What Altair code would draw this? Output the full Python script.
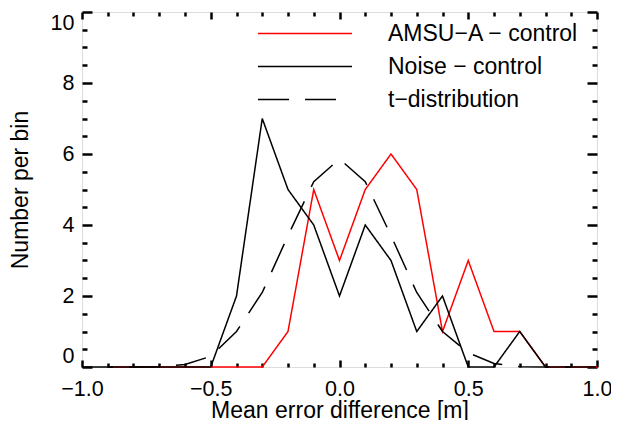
import altair as alt
import pandas as pd

FONT = "Liberation Sans"

series_names = ["AMSU\u2212A \u2212 control", "Noise \u2212 control", "t\u2212distribution"]

x_amsu = [-0.9, -0.8, -0.7, -0.6, -0.5, -0.4, -0.3, -0.2, -0.1, 0.0,
          0.1, 0.2, 0.3, 0.4, 0.5, 0.6, 0.7, 0.8, 0.9, 1.0]
amsu_counts = [0, 0, 0, 0, 0, 0, 0, 1, 5, 3, 5, 6, 5, 1, 3, 1, 1, 0, 0, 0]

x_noise = [-0.9, -0.8, -0.7, -0.6, -0.5, -0.4, -0.3, -0.2, -0.1, 0.0,
           0.1, 0.2, 0.3, 0.4, 0.5, 0.6, 0.7, 0.8, 0.9]
noise_counts = [0, 0, 0, 0, 0, 2, 7, 5, 4, 2, 4, 3, 1, 2, 0, 0, 1, 0, 0]

x_tdist = [-1.0, -0.9, -0.8, -0.7, -0.6, -0.5, -0.4, -0.3, -0.2, -0.1, 0.0,
           0.1, 0.2, 0.3, 0.4, 0.5, 0.6, 0.7, 0.8, 0.9, 1.0]
tdist_counts = [0, 0, 0, 0.01, 0.07, 0.3, 1.0, 2.1, 3.7, 5.22, 5.86,
                5.22, 3.7, 2.1, 1.0, 0.4, 0.1, 0.01, 0, 0, 0]

x_major_ticks = [-1.0, -0.5, 0.0, 0.5, 1.0]
x_minor_ticks = [-0.9, -0.8, -0.7, -0.6, -0.4, -0.3, -0.2, -0.1,
                 0.1, 0.2, 0.3, 0.4, 0.6, 0.7, 0.8, 0.9]
y_major_ticks = [0, 2, 4, 6, 8, 10]
y_minor_ticks = [0.5, 1, 1.5, 2.5, 3, 3.5, 4.5, 5, 5.5, 6.5, 7, 7.5, 8.5, 9, 9.5]

rows = []
for name, xs, ys in zip(series_names, [x_amsu, x_noise, x_tdist],
                        [amsu_counts, noise_counts, tdist_counts]):
    for xv, yv in zip(xs, ys):
        rows.append({"series": name, "x": xv, "y": yv})
df = pd.DataFrame(rows)

W, H = 515, 355

xscale = alt.Scale(domain=[-1, 1], nice=False, zero=False)
yscale = alt.Scale(domain=[0, 10], nice=False, zero=False)

legend = alt.Legend(
    title=None, orient="none", legendX=175, legendY=10, padding=0,
    symbolType="stroke", symbolSize=8836, symbolStrokeWidth=1.5,
    clipHeight=23,
    labelFont=FONT, labelFontSize=23, labelColor="black", labelOffset=35,
    labelLimit=400, rowPadding=9,
)

lines = alt.Chart(df).mark_line(strokeWidth=1.5).encode(
    x=alt.X("x:Q", scale=xscale, axis=None),
    y=alt.Y("y:Q", scale=yscale, axis=None),
    color=alt.Color("series:N", scale=alt.Scale(domain=series_names,
                    range=["#ff0000", "#000000", "#000000"]), legend=legend),
    strokeDash=alt.StrokeDash("series:N", scale=alt.Scale(domain=series_names,
                    range=[[1, 0], [1, 0], [31, 16]]), legend=legend),
    detail="series:N",
)


def tick_axis(orient, offset, values, size):
    return alt.Axis(orient=orient, offset=offset, values=values, labels=False,
                    domain=False, ticks=True, tickSize=size, tickWidth=2.5,
                    tickColor="black", grid=False, title=None)


x_label_axis = alt.Axis(
    orient="bottom", values=x_major_ticks, format=".1f", domain=False, ticks=False,
    labelFont=FONT, labelFontSize=21.5, labelColor="black", labelPadding=11,
    labelFlush=False, labelOverlap=False, labelBound=False, grid=False,
    title="Mean error difference [m]", titleFont=FONT, titleFontSize=23,
    titleFontWeight="normal", titleColor="black", titleX=W / 2, titleY=50,
    titleBaseline="alphabetic",
)
y_label_axis = alt.Axis(
    orient="left", values=y_major_ticks, format="d", domain=False, ticks=False,
    labelFont=FONT, labelFontSize=21.5, labelColor="black", labelPadding=8,
    labelFlush=True, labelFlushOffset=0,
    labelOverlap=False, labelBound=False, grid=False,
    title="Number per bin", titleFont=FONT, titleFontSize=23,
    titleFontWeight="normal", titleColor="black", titleX=-55, titleY=H / 2,
    titleBaseline="alphabetic",
)

axis_pairs = [
    (x_label_axis, y_label_axis),
    (tick_axis("top", -H, x_major_ticks, 7), tick_axis("right", -W, y_major_ticks, 10)),
    (tick_axis("top", -H, x_minor_ticks, 4), tick_axis("right", -W, y_minor_ticks, 5)),
    (tick_axis("bottom", -H, x_major_ticks, 7), tick_axis("left", -W, y_major_ticks, 10)),
    (tick_axis("bottom", -H, x_minor_ticks, 4), tick_axis("left", -W, y_minor_ticks, 5)),
]

axis_layers = [
    alt.Chart(df).mark_point(opacity=0).encode(
        x=alt.X("x:Q", scale=xscale, axis=xa),
        y=alt.Y("y:Q", scale=yscale, axis=ya),
    )
    for xa, ya in axis_pairs
]

chart = alt.layer(*axis_layers, lines).resolve_axis(
    x="independent", y="independent"
).resolve_scale(x="shared", y="shared").properties(
    width=W, height=H,
    autosize=alt.AutoSizeParams(type="none"),
    padding={"left": 74, "top": 4, "right": 14, "bottom": 53},
).configure_view(stroke="black", strokeWidth=3).configure(background="white")

chart.save("out.html", embed_options={"renderer": "svg", "actions": False})
